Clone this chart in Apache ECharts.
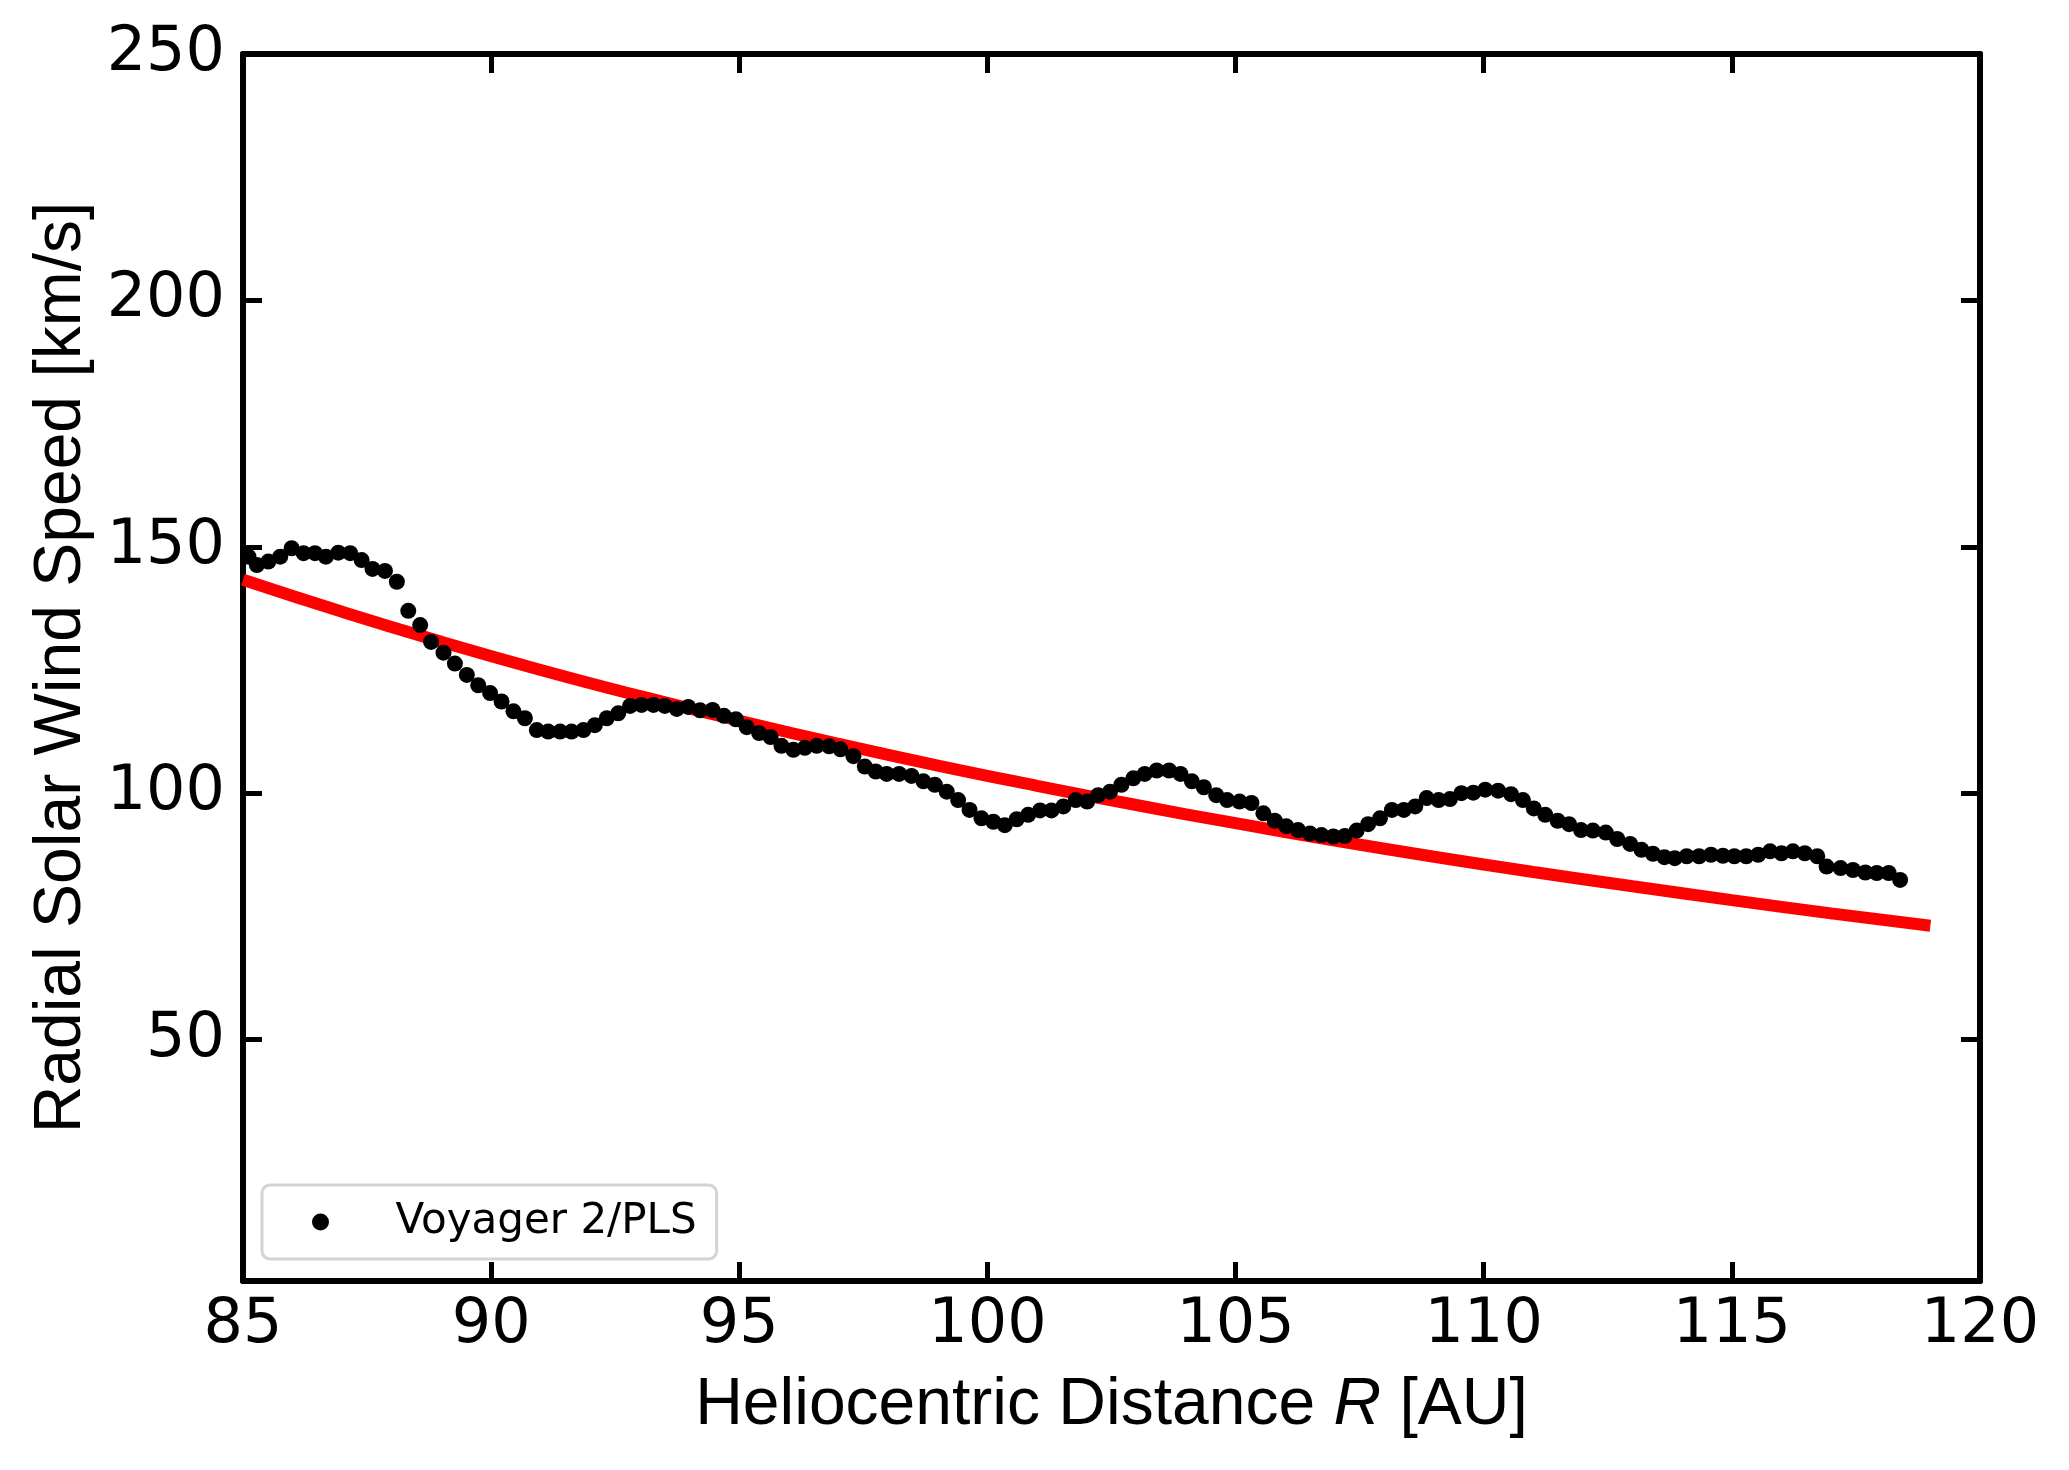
<!DOCTYPE html>
<html>
<head>
<meta charset="utf-8">
<script src="https://cdn.jsdelivr.net/npm/echarts@6/dist/echarts.min.js"></script>
<style>
html,body{margin:0;padding:0;background:#fff;}
#chart{width:2069px;height:1470px;}
</style>
</head>
<body>
<div id="chart"></div>
<script>
// Voyager 2/PLS radial solar wind speed (26-day averages)
var voyR = [85.11,85.28,85.51,85.75,85.98,86.22,86.45,86.67,86.92,87.16,87.39,87.61,87.86,88.10,
88.33,88.57,88.79,89.04,89.27,89.51,89.74,89.98,90.21,90.45,90.68,90.92,91.15,91.39,91.62,91.86,92.09,
92.33,92.56,92.80,93.03,93.27,93.50,93.74,93.97,94.21,94.46,94.69,94.93,95.15,95.40,95.63,95.85,96.09,96.32,96.56,96.81,97.04,97.30,97.53,97.75,97.97,98.22,98.47,98.71,98.94,99.18,99.41,99.64,99.88,100.12,
100.35,100.59,100.82,101.06,101.29,101.53,101.78,102.01,102.23,102.47,102.70,102.94,103.17,103.41,103.66,103.89,104.12,104.36,104.61,104.83,105.08,105.32,105.56,105.79,106.02,106.26,106.50,106.73,106.97,107.20,107.44,107.67,107.91,108.15,
108.39,108.62,108.85,109.09,109.32,109.55,109.79,110.03,110.29,110.55,110.79,111.01,111.24,111.49,111.72,111.96,112.20,112.46,112.69,112.95,113.18,113.41,113.64,113.85,114.09,114.34,114.58,114.82,115.05,115.29,115.53,115.77,116.00,116.23,116.47,116.72,116.91,117.19,117.44,117.69,117.92,118.16,118.39];
var voyV = [148.0,146.3,147.0,148.0,149.7,148.7,148.7,148.0,148.8,148.7,147.3,145.5,145.1,142.9,
137.0,134.1,130.7,128.5,126.3,124.0,121.9,120.3,118.6,116.6,115.2,112.8,112.5,112.5,112.5,112.8,113.8,
115.2,116.2,117.7,117.9,117.9,117.7,117.1,117.5,116.8,116.9,115.7,115.0,113.4,112.2,111.4,109.6,108.8,109.2,109.6,109.5,108.9,107.5,105.4,104.4,103.9,103.9,103.5,102.4,101.7,100.3,98.6,96.6,94.9,94.2,
93.5,94.7,95.6,96.5,96.5,97.3,98.6,98.3,99.6,100.3,101.7,103.0,103.9,104.6,104.6,103.9,102.4,101.2,99.6,98.6,98.3,98.0,95.9,94.4,93.3,92.5,91.8,91.5,91.2,91.3,92.4,93.7,94.9,96.6,
96.6,97.3,99.0,98.6,98.8,100.0,100.1,100.7,100.5,99.8,98.6,96.9,95.6,94.4,93.7,92.5,92.4,92.0,90.7,89.7,88.5,87.7,87.0,86.8,87.2,87.2,87.5,87.3,87.2,87.2,87.5,88.2,87.8,88.2,87.8,87.2,85.1,84.8,84.4,83.9,83.8,83.8,82.4];

// red model curve
var fitR = [85,87,89,91,93,95,97,99,101,103,105,107,109,111,113,115,117,119];
var fitV = [143.3,136.8,130.7,125.0,119.7,114.7,110.0,105.6,101.5,97.6,93.9,90.4,87.1,84.0,81.1,78.3,75.6,73.1];

var xTicks = [85,90,95,100,105,110,115,120];
var yTicks = [50,100,150,200,250];

var voyData = voyR.map(function(r,i){return [r, voyV[i]];});
var fitData = fitR.map(function(r,i){return [r, fitV[i]];});

var tickFont = 'DejaVu Sans';
var labelFont = 'Liberation Sans';
var axisLineStyle = {color:'#000', width:6};

var chart = echarts.init(document.getElementById('chart'));
chart.setOption({
  animation:false,
  backgroundColor:'#fff',
  grid:{left:243, right:89, top:54, bottom:189, containLabel:false},
  legend:{
    left:262, top:1185,
    orient:'vertical',
    data:[{name:'Voyager 2/PLS', icon:'circle', itemStyle:{color:'#000', opacity:1}}],
    itemWidth:60, itemHeight:17,
    padding:[16,20,16,50],
    borderColor:'#d4d4d4', borderWidth:3, borderRadius:8,
    backgroundColor:'rgba(255,255,255,0.8)',
    textStyle:{fontFamily:tickFont, fontSize:42, color:'#000', padding:[0,0,0,40]}
  },
  xAxis:[{
    type:'value', min:85, max:120, interval:5, position:'bottom',
    axisLine:{lineStyle:axisLineStyle},
    axisTick:{inside:true, length:19, lineStyle:{color:'#000', width:5}},
    axisLabel:{fontFamily:tickFont, fontSize:62, color:'#000', margin:14,
      customValues: xTicks},
    splitLine:{show:false},
    name:'Heliocentric Distance {it|R} [AU]',
    nameLocation:'middle', nameGap:92,
    nameTextStyle:{fontFamily:labelFont, fontSize:66, color:'#000',
      rich:{it:{fontFamily:labelFont, fontSize:66, color:'#000', fontStyle:'italic'}}}
  },{
    type:'value', min:85, max:120, interval:5, position:'top',
    axisLine:{lineStyle:axisLineStyle},
    axisTick:{inside:true, length:19, lineStyle:{color:'#000', width:5}},
    axisLabel:{show:false},
    splitLine:{show:false}
  }],
  yAxis:[{
    type:'value', min:1, max:250, position:'left',
    axisLine:{lineStyle:axisLineStyle},
    axisTick:{inside:true, length:19, lineStyle:{color:'#000', width:5}, customValues:yTicks},
    axisLabel:{fontFamily:tickFont, fontSize:62, color:'#000', margin:18, customValues:yTicks},
    splitLine:{show:false},
    name:'Radial Solar Wind Speed [km/s]',
    nameLocation:'middle', nameGap:148,
    nameTextStyle:{fontFamily:labelFont, fontSize:66, color:'#000'}
  },{
    type:'value', min:1, max:250, position:'right',
    axisLine:{lineStyle:axisLineStyle},
    axisTick:{inside:true, length:19, lineStyle:{color:'#000', width:5}, customValues:yTicks},
    axisLabel:{show:false},
    splitLine:{show:false}
  }],
  series:[{
    name:'model', type:'line', data:fitData, smooth:true, showSymbol:false, symbol:'none',
    lineStyle:{color:'#ff0000', width:12}, z:2
  },{
    name:'Voyager 2/PLS', type:'scatter', data:voyData, symbol:'circle', symbolSize:16,
    itemStyle:{color:'#000', opacity:1}, z:3
  }]
});
</script>
</body>
</html>
